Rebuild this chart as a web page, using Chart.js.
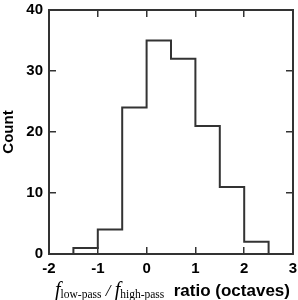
<!DOCTYPE html>
<html><head><meta charset="utf-8">
<script src="https://cdn.jsdelivr.net/npm/chart.js@4.4.1/dist/chart.umd.min.js"></script>
<style>html,body{margin:0;padding:0;background:#fff}#wrap{width:298px;height:300px}</style>
</head><body><div id="wrap"><canvas id="c" width="298" height="300"></canvas></div>
<script>
const binLefts = [-1.5, -1, -0.5, 0, 0.5, 1, 1.5, 2];
const binWidth = 0.5;
const counts = [1, 4, 24, 35, 32, 21, 11, 2];
const xTicks = [-2, -1, 0, 1, 2, 3];
const yTicks = [0, 10, 20, 30, 40];
const yTitle = 'Count';
const xTitleParts = ['f', 'low-pass', ' / ', 'f', 'high-pass', '  ratio (octaves)'];

const pts = [{x: binLefts[0], y: 0}];
binLefts.forEach((b, i) => pts.push({x: b, y: counts[i]}));
pts.push({x: binLefts[binLefts.length - 1] + binWidth, y: 0});

const lineCol = '#333333';
const tickFont = {family: 'Liberation Sans, Arial, sans-serif', size: 15, weight: 'bold'};
function setTicks(arr){ return function(s){ s.ticks = arr.map(v => ({value: v})); }; }
function fitTo(w, h){
  return function(s){
    if (w !== null) s.width = w;
    if (h !== null) s.height = h;
    s.paddingTop = 0; s.paddingBottom = 0; s.paddingLeft = 0; s.paddingRight = 0;
  };
}

const xTitlePlugin = {
  id: 'xTitle',
  afterDraw(chart) {
    const ctx = chart.ctx;
    ctx.save();
    ctx.fillStyle = '#000';
    ctx.textBaseline = 'alphabetic';
    let x = 55; const y = 296;
    const styles = [
      {f: 'italic 20px "Liberation Serif", serif', dy: 0},
      {f: '11.5px "Liberation Serif", serif', dy: 2},
      {f: 'italic 17px "Liberation Serif", serif', dy: 0},
      {f: 'italic 20px "Liberation Serif", serif', dy: 0},
      {f: '11.5px "Liberation Serif", serif', dy: 2},
      {f: 'bold 17px "Liberation Sans", Arial, sans-serif', dy: 0}
    ];
    xTitleParts.forEach((t, i) => {
      ctx.font = styles[i].f;
      ctx.fillText(t, x, y + styles[i].dy);
      x += ctx.measureText(t).width;
    });
    ctx.restore();
  }
};

new Chart(document.getElementById('c'), {
  type: 'line',
  data: { datasets: [{ data: pts, stepped: true, borderColor: lineCol, borderWidth: 2, pointRadius: 0, fill: false, tension: 0 }] },
  options: {
    responsive: false, animation: false, devicePixelRatio: 1,
    layout: { padding: { top: 10, right: 5, left: 0, bottom: 0 } },
    plugins: { legend: { display: false }, tooltip: { enabled: false } },
    scales: {
      x: { type: 'linear', position: 'bottom', min: -2, max: 3,
        afterBuildTicks: setTicks(xTicks),
        afterFit: fitTo(null, 46),
        grid: { drawOnChartArea: false, tickLength: -7, color: lineCol, lineWidth: 1.5 },
        border: { color: lineCol, width: 2 },
        ticks: { font: tickFont, color: '#000', padding: 13, maxRotation: 0 } },
      x2: { type: 'linear', position: 'top', min: -2, max: 3,
        afterBuildTicks: setTicks(xTicks),
        afterFit: fitTo(null, 0),
        grid: { drawOnChartArea: false, tickLength: -7, color: lineCol, lineWidth: 1.5 },
        border: { color: lineCol, width: 2 },
        ticks: { display: false } },
      y: { type: 'linear', position: 'left', min: 0, max: 40,
        afterBuildTicks: setTicks(yTicks),
        afterFit: fitTo(49, null),
        grid: { drawOnChartArea: false, tickLength: -7, color: lineCol, lineWidth: 1.5 },
        border: { color: lineCol, width: 2 },
        title: { display: true, text: yTitle, font: tickFont, color: '#000', padding: 0 },
        ticks: { font: tickFont, color: '#000', padding: 13 } },
      y2: { type: 'linear', position: 'right', min: 0, max: 40,
        afterBuildTicks: setTicks(yTicks),
        afterFit: fitTo(0, null),
        grid: { drawOnChartArea: false, tickLength: -7, color: lineCol, lineWidth: 1.5 },
        border: { color: lineCol, width: 2 },
        ticks: { display: false } }
    }
  },
  plugins: [xTitlePlugin]
});
</script></body></html>
